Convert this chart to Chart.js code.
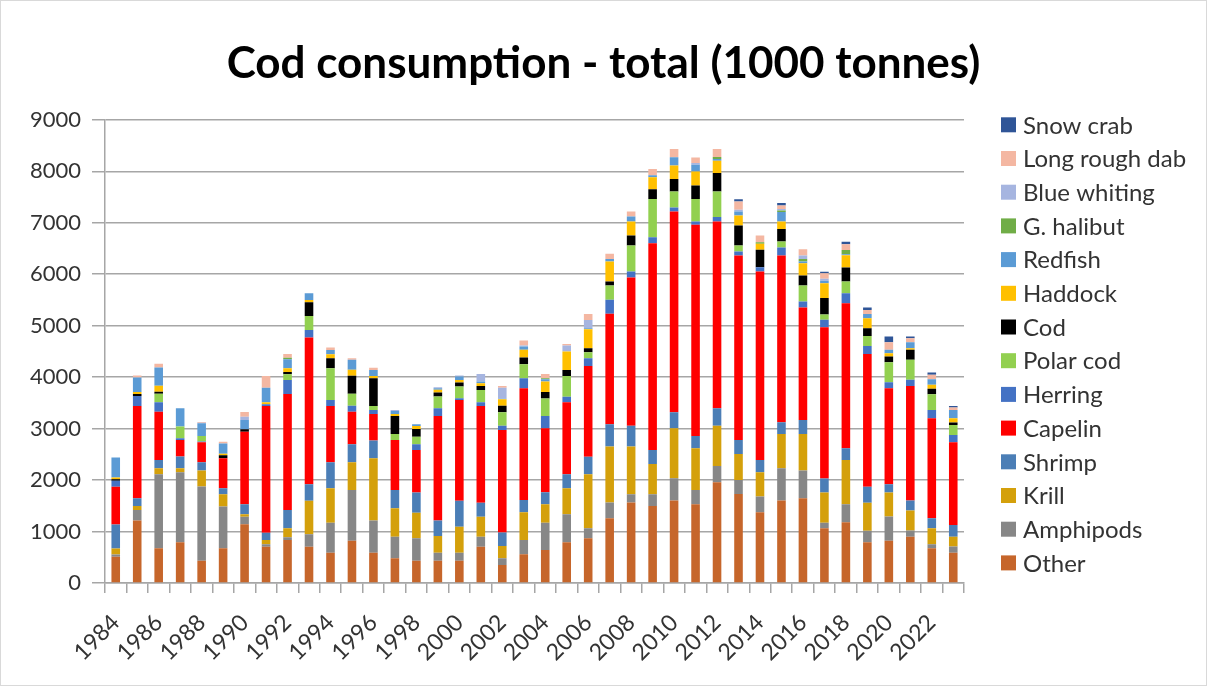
<!DOCTYPE html>
<html><head><meta charset="utf-8">
<script src="https://cdn.jsdelivr.net/npm/chart.js@4.4.0/dist/chart.umd.min.js"></script>
<style>
html,body{margin:0;padding:0;background:#fff;}
canvas{display:block;}
</style></head><body>
<canvas id="c" width="1207" height="686"></canvas>
<script>
const years = ['1984','1985','1986','1987','1988','1989','1990','1991','1992','1993','1994','1995','1996','1997','1998','1999','2000','2001','2002','2003','2004','2005','2006','2007','2008','2009','2010','2011','2012','2013','2014','2015','2016','2017','2018','2019','2020','2021','2022','2023'];
const tickLabels = ['1984','1986','1988','1990','1992','1994','1996','1998','2000','2002','2004','2006','2008','2010','2012','2014','2016','2018','2020','2022'];
const yTicks = [0,1000,2000,3000,4000,5000,6000,7000,8000,9000];

const other = [510,1212,674,790,434,674,1140,706,836,706, 590,823,590,480,434,434,434,706,350,557, 642,790,868,1257,1562,1497,1601,1529,1957,1730, 1374,1601,1646,1063,1179,790,823,901,674,590];
const amphipods = [45,207,1439,1361,1439,810,149,45,52,240, 583,985,622,421,434,156,156,194,130,279, 531,544,194,305,162,227,434,279,318,272, 305,629,538,110,350,227,467,117,78,117];
const krill = [117,78,117,78,311,240,45,84,175,654, 667,538,1212,551,499,324,505,389,240,538, 356,505,1050,1089,927,590,972,810,778,505, 473,667,713,583,862,544,467,389,311,194];
const shrimp = [467,149,162,227,162,117,194,143,356,318, 505,350,343,356,389,298,505,272,259,240, 233,272,343,434,402,272,311,240,343,272, 240,227,272,276,227,311,162,194,194,227];
const capelin = [732,1795,933,324,389,583,1413,2462,2255,2851, 1095,629,518,972,829,2035,1957,1879,1996,2171, 1244,1400,1763,2145,2884,4017,3901,4102,3629,3583, 3661,3240,2184,2935,2819,2579,1866,2229,1944,1607];
const herring = [117,194,188,32,13,0,0,32,272,149, 117,117,78,0,110,149,32,71,78,194, 240,110,149,272,117,117,78,65,84,78, 84,156,117,150,194,156,117,117,162,143];
const polarCod = [0,0,162,227,110,0,0,0,110,272, 616,233,78,117,149,227,227,240,266,272, 337,402,117,279,505,739,311,434,499,117, 0,117,311,100,227,194,389,389,305,194];
const cod = [30,39,39,0,0,60,45,0,45,266, 194,350,538,350,149,78,78,78,123,130, 130,117,78,78,194,194,240,266,356,389, 337,240,194,320,272,149,110,194,104,45];
const haddock = [30,39,117,0,0,26,0,39,71,45, 78,117,45,39,58,52,52,52,130,149, 201,356,369,389,272,233,266,272,240,194, 117,149,240,285,240,194,65,32,78,84];
const redfish = [390,279,356,356,246,201,181,285,175,130, 84,194,117,58,32,32,65,32,10,65, 45,0,19,45,97,39,156,130,32,78, 0,181,30,52,20,84,65,117,110,162];
const gHalibut = [0,0,0,0,0,0,0,0,32,0, 0,0,0,0,0,0,0,0,0,0, 19,0,0,0,0,0,0,0,39,0, 32,32,52,0,80,0,0,0,0,0];
const blueWhiting = [0,0,0,0,10,0,65,0,0,0, 0,0,0,19,0,19,19,149,214,20, 0,117,162,0,0,0,0,32,0,32, 0,26,67,39,0,0,0,0,0,0];
const longRoughDab = [0,39,71,0,16,32,91,227,71,0, 45,32,39,0,0,0,0,0,32,97, 84,32,117,104,97,117,162,110,156,162, 130,71,123,104,110,78,149,78,84,45];
const snowCrab = [0,0,0,0,0,0,0,0,0,0, 0,0,0,0,0,0,0,0,0,0, 0,0,0,0,0,0,0,0,0,45, 0,45,0,32,52,45,110,32,45,32];

const seriesNames = ['Other','Amphipods','Krill','Shrimp','Capelin','Herring','Polar cod','Cod','Haddock','Redfish','G. halibut','Blue whiting','Long rough dab','Snow crab'];
const seriesData = [other,amphipods,krill,shrimp,capelin,herring,polarCod,cod,haddock,redfish,gHalibut,blueWhiting,longRoughDab,snowCrab];
const seriesColors = ['#C6662B','#878787','#D4A00B','#4B7EB6','#FF0000','#4472C4','#92D050','#000000','#FFC000','#5B9BD5','#70AD47','#A6B5E0','#F4B7A2','#2F5597'];

const FONT = 'Lato';

const frame = {
  id:'frame',
  beforeDraw(chart){
    const c=chart.ctx;
    c.save(); c.fillStyle='#fff'; c.fillRect(0,0,chart.width,chart.height);
    c.strokeStyle='#d9d9d9'; c.lineWidth=1; c.strokeRect(0.5,0.5,chart.width-1,chart.height-1);
    c.restore();
  }
};
const legendDraw = {
  id:'legendDraw',
  afterDraw(chart){
    const c=chart.ctx, a=chart.chartArea, ds=chart.data.datasets;
    c.save();
    c.font = '24px '+FONT; c.textBaseline='middle'; c.textAlign='left';
    for(let i=0;i<ds.length;i++){
      const d=ds[ds.length-1-i];
      const y=a.top+5+i*33.7;
      const x=a.right+37;
      c.fillStyle=d.backgroundColor; c.fillRect(x,y-7.5,15,15);
      c.fillStyle='#333'; c.fillText(d.label,x+22,y+1);
    }
    c.restore();
  }
};

new Chart(document.getElementById('c'), {
  type:'bar',
  data:{
    labels: years,
    datasets: seriesNames.map((n,i)=>({label:n, data:seriesData[i], backgroundColor:seriesColors[i], borderWidth:0, barPercentage:0.4, categoryPercentage:1.0}))
  },
  options:{
    responsive:false, animation:false, devicePixelRatio:1,
    layout:{padding:{left:0,right:0,top:0,bottom:0}},
    plugins:{
      legend:{display:false},
      tooltip:{enabled:false},
      title:{display:true, text:'Cod consumption - total (1000 tonnes)', color:'#000',
        font:{family:FONT, size:44, weight:'bold'}, padding:{top:37,bottom:30}}
    },
    scales:{
      x:{stacked:true,
        grid:{offset:true, drawOnChartArea:false, drawTicks:true, tickLength:10, color:'#a6a6a6', lineWidth:1.5},
        border:{display:true, color:'#a6a6a6', width:1.5},
        ticks:{autoSkip:false, maxRotation:45, minRotation:45, font:{family:FONT,size:23}, color:'#333', padding:16,
          callback:(v,i)=> tickLabels.includes(years[i]) ? years[i] : ''},
        afterFit(s){ s.height=103; }
      },
      y:{stacked:true, min:yTicks[0], max:yTicks[yTicks.length-1],
        afterBuildTicks(s){ s.ticks = yTicks.map(v=>({value:v})); },
        ticks:{font:{family:FONT,size:22}, color:'#333', padding:11, callback:v=>String(v)},
        grid:{color:'#a6a6a6', lineWidth:1.5, tickLength:13},
        border:{display:true, color:'#a6a6a6', width:1.5},
        afterFit(s){ s.width=105; }
      },
      spacer:{type:'linear', position:'right', display:true,
        grid:{display:false, drawTicks:false}, border:{display:false}, ticks:{display:false},
        afterFit(s){ s.width=243; }
      }
    }
  },
  plugins:[frame, legendDraw]
});
</script>
</body></html>
